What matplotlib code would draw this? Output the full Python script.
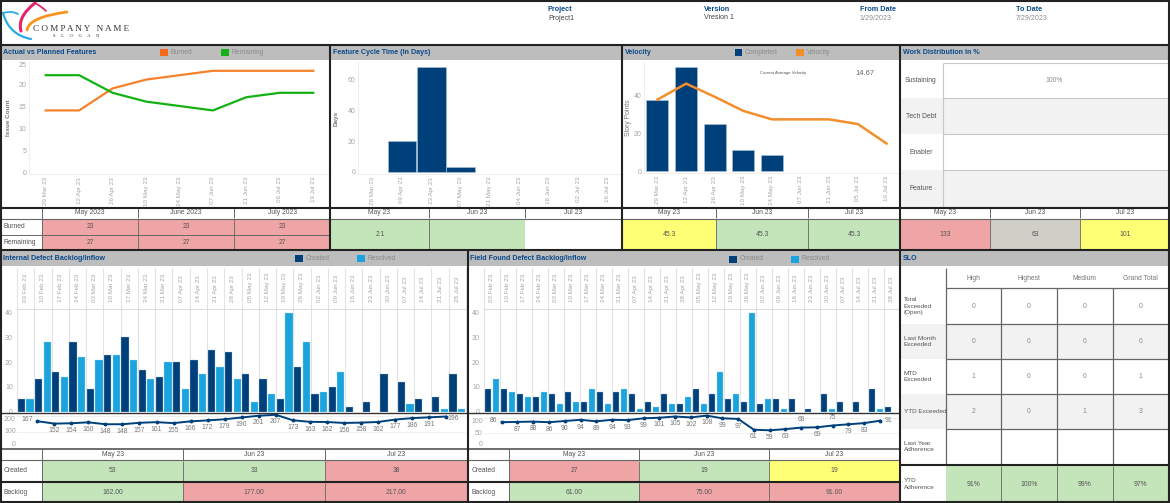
import matplotlib
matplotlib.use("Agg")
import matplotlib.pyplot as plt
from matplotlib.patches import Rectangle, PathPatch
from matplotlib.path import Path

W, H = 1170, 503
plt.rcParams['font.family'] = ['Liberation Sans', 'DejaVu Sans']

NAVY = '#00407A'
SKY = '#1BA3DE'
BLUE_TXT = '#0B4A8B'
GREY_TXT = '#8f8f8f'
CELL_TXT = '#555555'
BAND = '#BDBDBD'
PINK = '#EFA5A6'
GREEN = '#C4E5BA'
YELLOW = '#FFFF75'
STONE = '#CFCFC8'
ALT = '#F2F2F2'
LINE = '#666666'

fig = plt.figure(figsize=(W / 100, H / 100), dpi=100, facecolor='white')

# overlay in pixel coords for tables, bands and borders
bg = fig.add_axes([0, 0, 1, 1], zorder=0)
bg.set_xlim(0, W)
bg.set_ylim(H, 0)
bg.axis('off')
top = fig.add_axes([0, 0, 1, 1], zorder=10)
top.set_xlim(0, W)
top.set_ylim(H, 0)
top.axis('off')
top.patch.set_alpha(0)


def px_axes(l, t, r, b):
    ax = fig.add_axes([l / W, 1 - b / H, (r - l) / W, (b - t) / H], zorder=5)
    ax.patch.set_alpha(0)
    for s in ax.spines.values():
        s.set_visible(False)
    ax.tick_params(length=0, labelsize=5, labelcolor='#a5a5a5', pad=2)
    return ax


def fill(x0, y0, x1, y1, c, where=bg):
    where.add_patch(Rectangle((x0, y0), x1 - x0, y1 - y0, fc=c, ec='none'))


def hline(y, x0, x1, c='#222222', lw=1.5):
    top.plot([x0, x1], [y, y], color=c, lw=lw, solid_capstyle='butt')


def vline(x, y0, y1, c='#222222', lw=1.5):
    top.plot([x, x], [y0, y1], color=c, lw=lw, solid_capstyle='butt')


def txt(x, y, s, size=4.9, c=CELL_TXT, ha='center', **kw):
    top.text(x, y, s, fontsize=size, color=c, ha=ha, va='center', **kw)


def band(x0, x1, y0, y1, title):
    fill(x0, y0, x1, y1, BAND)
    txt(x0 + 3, (y0 + y1) / 2, title, size=5.1, c=BLUE_TXT, ha='left', fontweight='bold')


def legend(items, y):
    for x, c, name in items:
        fill(x, y - 3.5, x + 7.5, y + 3.5, c, top)
        txt(x + 10.5, y, name, size=4.9, c='#8a8a8a', ha='left')


def bars(ax, x, values, **kw):
    # empty weeks get no bar, otherwise the edge shows up on the baseline
    keep = [(a, v) for a, v in zip(x, values) if v > 0]
    ax.bar([a for a, v in keep], [v for a, v in keep], **kw)


def light_frame(ax):
    ax.spines['left'].set_visible(True)
    ax.spines['bottom'].set_visible(True)
    ax.spines['left'].set_color('#eeeeee')
    ax.spines['bottom'].set_color('#eeeeee')


def date_ticks(ax, labels):
    ax.set_xticks(range(len(labels)))
    ax.set_xticklabels(labels, rotation=90, fontsize=4.5)


# header strip
for x, head, value, col, vy in [(548, 'Project', 'Project1', '#444444', 18),
                                (704, 'Version', 'Vresion 1', '#444444', 17),
                                (860, 'From Date', '1/29/2023', GREY_TXT, 18),
                                (1016, 'To Date', '7/29/2023', GREY_TXT, 18)]:
    txt(x, 9, head, c=BLUE_TXT, ha='left', fontweight='bold', size=5.2)
    txt(x, vy, value, c=col, ha='left', size=5.1)

# logo
M, Q = Path.MOVETO, Path.CURVE3
logo = [
    ('#29ABE2', 1.3, [(3, 13), (12, 10.5), (18, 14)], [M, Q, Q]),
    ('#29ABE2', 1.6, [(3, 13), (9, 35), (31, 39)], [M, Q, Q]),
    ('#E6246E', 2.2, [(21, 31), (17, 17), (35, 3)], [M, Q, Q]),
    ('#E6246E', 1.3, [(35, 3), (41, 6), (46, 11)], [M, Q, Q]),
    ('#F7931E', 2.0, [(27, 30), (29, 17), (67, 12)], [M, Q, Q]),
]
for c, lw, pts, codes in logo:
    top.add_patch(PathPatch(Path(pts, codes), fc='none', ec=c, lw=lw, capstyle='round'))
txt(33, 29, 'C O M P A N Y   N A M E', size=6.6, c='#333333', ha='left', family='Liberation Serif')
txt(53, 35.5, 'S     L     O     G     A     N', size=3.3, c='#333333', ha='left', family='Liberation Serif')

# grey title bands
band(0, 330, 45, 60, 'Actual vs Planned Features')
band(330, 622, 45, 60, 'Feature Cycle Time (In Days)')
band(622, 900, 45, 60, 'Velocity')
band(900, 1170, 45, 60, 'Work Distribution in %')
band(0, 467, 250, 266, 'Internal Defect Backlog/Inflow')
band(467, 900, 250, 266, 'Field Found Defect Backlog/Inflow')
band(900, 1170, 250, 266, 'SLO')
legend([(160, '#F26B1D', 'Burned'), (221, '#13B113', 'Remaining')], 52)
legend([(734.5, NAVY, 'Completed'), (796, '#F28E2B', 'Velocity')], 52)
legend([(295, NAVY, 'Created'), (357, SKY, 'Resolved')], 258.5)
legend([(729, NAVY, 'Created'), (791, SKY, 'Resolved')], 259)

# Actual vs planned
weeks_a = ['29 Mar 23', '12 Apr 23', '26 Apr 23', '10 May 23', '24 May 23', '07 Jun 23', '21 Jun 23', '06 Jul 23', '19 Jul 23']
burned = [14, 14, 19, 21, 22, 23, 23, 23, 23]
remaining = [22, 22, 18, 16, 15, 14, 17, 18, 18]
ax = px_axes(29, 62, 330, 174)
ax.plot(range(9), burned, color='#F5812A', lw=1.6)
ax.plot(range(9), remaining, color='#13B113', lw=1.6)
ax.set_xlim(-0.5, 8.5)
ax.set_ylim(-0.45, 25)
ax.set_yticks([0, 5, 10, 15, 20, 25])
ax.get_yticklabels()[-1].set_va('top')
date_ticks(ax, weeks_a)
ax.set_ylabel('Issue Count', fontsize=4.6, color='#777777', fontweight='bold', labelpad=5)
light_frame(ax)

# Feature cycle
weeks_c = ['26 Mar 23', '09 Apr 23', '23 Apr 23', '07 May 23', '21 May 23', '04 Jun 23', '18 Jun 23', '02 Jul 23', '16 Jul 23']
cycle = [0, 20, 68, 3, 0, 0, 0, 0, 0]
ax = px_axes(358, 62, 622, 174)
bars(ax, range(9), cycle, width=0.97, color=NAVY, edgecolor='#a9c3dc', linewidth=0.4)
ax.set_xlim(-0.5, 8.5)
ax.set_ylim(-1.3, 71)
ax.set_yticks([0, 20, 40, 60])
date_ticks(ax, weeks_c)
ax.set_ylabel('Days', fontsize=4.6, color='#777777', fontweight='bold', labelpad=6)
light_frame(ax)

# Velocity
completed = [38, 55.5, 25, 11, 8.5, 0, 0, 0, 0]
velocity = [38, 46.5, 39.5, 32, 27.5, 27.5, 27.5, 25, 14.67]
ax = px_axes(644, 62, 900, 173)
bars(ax, range(9), completed, width=0.77, color=NAVY, edgecolor='#a9c3dc', linewidth=0.4)
ax.plot(range(9), velocity, color='#F28E2B', lw=1.8)
ax.set_xlim(-0.47, 8.47)
ax.set_ylim(-1, 58)
ax.set_yticks([0, 20, 40])
date_ticks(ax, weeks_a[:7] + ['05 Jul 23', '19 Jul 23'])
ax.set_ylabel('Story Points', fontsize=4.9, color='#777777', labelpad=1)
light_frame(ax)
txt(783, 73, 'Current Average Velocity', size=3.1, c='#555555')
txt(865, 73, '14.67', size=5.4, c='#666666')

# Work distribution
work = ['Sustaining', 'Tech Debt', 'Enabler', 'Feature']
work_y = [63, 98, 134, 170, 207]
for i, name in enumerate(work):
    if i % 2:
        fill(900, work_y[i], 1170, work_y[i + 1], ALT)
    txt(921, (work_y[i] + work_y[i + 1]) / 2, name)
    hline(work_y[i], 943, 1170, c='#c8c8c8', lw=0.8)
hline(207, 943, 1170, c='#c8c8c8', lw=0.8)
vline(943, 63, 207, c='#c8c8c8', lw=0.8)
txt(1054, 80, '100%', c='#8a8a8a')

# tables under the top row
tables_top = [
    ([42, 138, 234, 330], ['May 2023', 'June 2023', 'July 2023']),
    ([330, 428.5, 525, 622], ['May 23', 'Jun 23', 'Jul 23']),
    ([622, 716, 808, 900], ['May 23', 'Jun 23', 'Jul 23']),
    ([900, 990, 1080, 1170], ['May 23', 'Jun 23', 'Jul 23']),
]
for xs, heads in tables_top:
    for i, h in enumerate(heads):
        txt((xs[i] + xs[i + 1]) / 2, 213, h)
        vline(xs[i + 1], 208, 218, c=LINE, lw=0.7)
    hline(218.5, xs[0], xs[-1], c=LINE, lw=0.8)
hline(218.5, 0, 42, c=LINE, lw=0.8)

for row, (label, y0, y1, values) in enumerate([('Burned', 219, 234.5, [23, 23, 23]), ('Remaining', 234.5, 250, [27, 27, 27])]):
    txt(3, (y0 + y1) / 2, label, ha='left')
    for i, v in enumerate(values):
        xs = tables_top[0][0]
        fill(xs[i], y0, xs[i + 1], y1, PINK)
        txt((xs[i] + xs[i + 1]) / 2, (y0 + y1) / 2, v)
vline(42, 208, 250, c=LINE, lw=0.7)
hline(234.5, 0, 330, c=LINE, lw=0.7)
vline(138, 219, 250, c=LINE, lw=0.6)
vline(234, 219, 250, c=LINE, lw=0.6)

fill(330, 219, 525, 250, GREEN)
vline(428.5, 219, 250, c=LINE, lw=0.6)
txt(380, 234.5, '2.1')
for xs, vals, cols in [
    (tables_top[2][0], ['45.3', '45.3', '45.3'], [YELLOW, GREEN, GREEN]),
    (tables_top[3][0], ['133', '63', '101'], [PINK, STONE, YELLOW]),
]:
    for i in range(3):
        fill(xs[i], 219, xs[i + 1], 250, cols[i])
        txt((xs[i] + xs[i + 1]) / 2, 234.5, vals[i])
        if i:
            vline(xs[i], 219, 250, c=LINE, lw=0.6)

# Defect panels
weeks_d = ['03 Feb 23', '10 Feb 23', '17 Feb 23', '24 Feb 23', '03 Mar 23', '10 Mar 23', '17 Mar 23', '24 Mar 23',
           '31 Mar 23', '07 Apr 23', '14 Apr 23', '21 Apr 23', '28 Apr 23', '05 May 23', '12 May 23', '19 May 23',
           '26 May 23', '02 Jun 23', '09 Jun 23', '16 Jun 23', '23 Jun 23', '30 Jun 23', '07 Jul 23', '14 Jul 23',
           '21 Jul 23', '28 Jul 23']

internal = {
    'created': [5, 13, 16, 28, 9, 23, 30, 17, 14, 20, 21, 25, 24, 15, 13, 5, 18, 7, 10, 2, 4, 15, 12, 5, 6, 15],
    'resolved': [5, 28, 14, 22, 21, 23, 21, 13, 20, 9, 15, 18, 13, 4, 7, 40, 28, 8, 16, 0, 0, 0, 3, 0, 1, 1],
    'backlog': [167, 152, 154, 160, 148, 148, 157, 161, 155, 166, 172, 179, 190, 201, 207, 173, 163, 162, 156, 158,
                162, 177, 186, 191, 196],
}
field = {
    'created': [9, 9, 7, 6, 7, 8, 4, 8, 8, 7, 4, 7, 3, 9, 7, 5, 4, 3, 5, 5, 1, 7, 4, 4, 9, 2],
    'resolved': [13, 8, 6, 8, 3, 4, 9, 3, 9, 1, 2, 3, 6, 3, 16, 7, 40, 5, 1, 0, 0, 1, 0, 0, 1, 0],
    'backlog': [86, 87, 88, 86, 90, 94, 89, 94, 93, 99, 101, 105, 102, 108, 99, 97, 61, 59, 63, 68, 69, 75, 79, 83, 91],
}


def defect_panel(data, l, r, first_pt, last_pt, ymax, yticks, above, side):
    n = len(weeks_d)
    ax = px_axes(l, 309, r, 412)
    x = list(range(n))
    bars(ax, [i - 0.25 for i in x], data['created'], width=0.42, color=NAVY, edgecolor='#a9c3dc', linewidth=0.25)
    bars(ax, [i + 0.25 for i in x], data['resolved'], width=0.42, color=SKY, edgecolor='#a9d8f0', linewidth=0.25)
    ax.set_xlim(-0.5, n - 0.5)
    ax.set_ylim(-0.2, 41.5)
    ax.set_yticks([0, 10, 20, 30, 40])
    ax.tick_params(axis='y', pad=3)
    ax.xaxis.tick_top()
    date_ticks(ax, weeks_d)
    ax.tick_params(axis='x', pad=5)
    ax.vlines([i - 0.5 for i in range(n + 1)], 0, 1.4, transform=ax.get_xaxis_transform(),
              color='#e3e3e3', lw=0.8, clip_on=False, zorder=0)
    ax.spines['top'].set_visible(True)
    ax.spines['top'].set_color('#dddddd')

    # backlog strip below the bars, 25 weeks against the 26 above
    sub = px_axes(l, 413, r, 448)
    step = (last_pt - first_pt) / 24
    xb = list(range(25))
    sub.plot(xb, data['backlog'], color=NAVY, lw=1.4, marker='o', ms=1.8)
    sub.set_xlim((l - first_pt) / step, (r - first_pt) / step)
    sub.set_ylim(0, ymax)
    sub.set_xticks([])
    sub.set_yticks(yticks)
    sub.tick_params(axis='y', pad=1)
    sub.yaxis.grid(True, color='#eeeeee', lw=0.6)
    sub.set_axisbelow(True)
    for t, tick in zip(sub.get_yticklabels(), yticks):
        t.set_va('bottom' if tick == 0 else 'top' if tick == yticks[-1] else 'center')
    for i, v in enumerate(data['backlog']):
        if i in side:
            off, ha = side[i]
            sub.annotate(v, (i, v), xytext=off, textcoords='offset points', ha=ha, va='center',
                         fontsize=4.9, color='#777777', annotation_clip=False)
        else:
            dy = 5.5 if i in above else -5.2
            sub.annotate(v, (i, v), xytext=(0, dy), textcoords='offset points', ha='center', va='center',
                         fontsize=4.9, color='#777777', annotation_clip=False)


defect_panel(internal, 17, 466, 37.3, 446, 218, [0, 100, 200], [],
             {0: ((-3, 1), 'right'), 24: ((1, -1.5), 'left')})
defect_panel(field, 484, 900, 501.7, 880, 116.7, [0, 50, 100], [19, 21],
             {0: ((-3, 1), 'right'), 24: ((3, 0), 'left')})

# tables under the defect panels
low = [
    ([42, 183, 325, 467], 0, [('Created', ['53', '33', '38'], [GREEN, GREEN, PINK]),
                              ('Backlog', ['162.00', '177.00', '217.00'], [GREEN, PINK, PINK])]),
    ([509, 639, 769, 899], 468, [('Created', ['27', '19', '19'], [PINK, GREEN, YELLOW]),
                                 ('Backlog', ['61.00', '75.00', '91.00'], [GREEN, PINK, PINK])]),
]
for xs, lab_x, rows in low:
    for i, h in enumerate(['May 23', 'Jun 23', 'Jul 23']):
        txt((xs[i] + xs[i + 1]) / 2, 454.5, h)
        if i:
            vline(xs[i], 449, 460, c=LINE, lw=0.7)
    hline(460, lab_x, xs[-1], c=LINE, lw=0.8)
    vline(xs[0], 449, 502, c=LINE, lw=0.7)
    for (label, vals, cols), (y0, y1) in zip(rows, [(460.5, 480.5), (482.5, 502)]):
        txt(lab_x + 4, (y0 + y1) / 2, label, ha='left')
        for i in range(3):
            fill(xs[i], y0, xs[i + 1], y1, cols[i])
            txt((xs[i] + xs[i + 1]) / 2, (y0 + y1) / 2, vals[i])
            if i:
                vline(xs[i], y0, y1, c=LINE, lw=0.6)

# SLO
slo_x = [945.5, 1001, 1057, 1112.5, 1168]
slo_y = [288, 324, 359, 394, 429, 464]
slo_rows = [
    ('Total\nExceeded\n(Open)', ['0', '0', '0', '0']),
    ('Last Month\nExceeded', ['0', '0', '0', '0']),
    ('MTD\nExceeded', ['1', '0', '0', '1']),
    ('YTD Exceeded', ['2', '0', '1', '3']),
    ('Last Year\nAdherence', ['', '', '', '']),
]
for i, h in enumerate(['High', 'Highest', 'Medium', 'Grand Total']):
    txt((slo_x[i] + slo_x[i + 1]) / 2, 279, h, c='#777777')
for r, (label, vals) in enumerate(slo_rows):
    y0, y1 = slo_y[r], slo_y[r + 1]
    if r % 2:
        fill(900, y0, 1170, y1, ALT)
    txt(904, (y0 + y1) / 2, label, size=4.6, ha='left', linespacing=1.45)
    for i, v in enumerate(vals):
        txt((slo_x[i] + slo_x[i + 1]) / 2, (y0 + y1) / 2, v, c='#888888')
    hline(y0, 945.5, 1170, c=LINE, lw=0.9)
for x in slo_x[1:-1]:
    vline(x, 288, 464, c=LINE, lw=0.9)
vline(945.5, 268, 464, c=LINE, lw=0.9)
fill(945.5, 466, 1168, 502, GREEN)
txt(904, 484, 'YTD\nAdherence', size=4.6, ha='left', linespacing=1.45)
for i, v in enumerate(['91%', '100%', '99%', '97%']):
    txt((slo_x[i] + slo_x[i + 1]) / 2, 484, v)
    if i:
        vline(slo_x[i], 466, 502, c=LINE, lw=0.6)

# heavy borders
hline(0.8, 0, W)
hline(45, 0, W)
hline(207.5, 0, W)
hline(250, 0, W)
hline(412.5, 0, 900, c='#333333', lw=1.0)
hline(448.5, 0, 900, c='#555555', lw=1.2)
hline(481.5, 0, 900)
hline(464.8, 900, W)
hline(502.3, 0, W)
vline(0.8, 0, 503)
vline(1169.3, 0, 503)
vline(330, 45, 250)
vline(622, 45, 250)
vline(900, 45, 503)
vline(467.5, 250, 503)

fig.savefig('out.png', dpi=100, facecolor='white')
